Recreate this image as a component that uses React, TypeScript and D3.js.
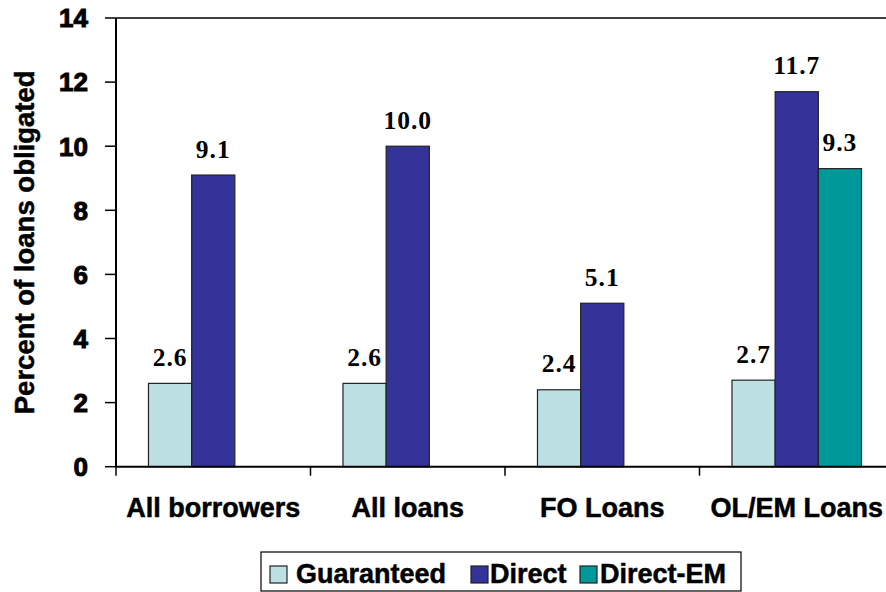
import React from "react";
import * as d3 from "d3";

const categories = ["All borrowers", "All loans", "FO Loans", "OL/EM Loans"];
const seriesNames = ["Guaranteed", "Direct", "Direct-EM"];
const guaranteed = [2.6, 2.6, 2.4, 2.7];
const direct = [9.1, 10.0, 5.1, 11.7];
const directEM: (number | null)[] = [null, null, null, 9.3];
const yTicks = [0, 2, 4, 6, 8, 10, 12, 14];
const colors = ["#BCE0E3", "#333399", "#009999"];

const W = 886;
const H = 592;
const left = 116;
const right = 894;
const top = 18;
const bottom = 466.7;

const sans = "'Liberation Sans', Arial, sans-serif";
const heavy = { stroke: "#000", strokeWidth: 0.5 };

export default function App() {
  const y = d3.scaleLinear().domain([0, 14]).range([bottom, top]);
  const x = d3.scaleBand<string>().domain(categories).range([left, right]).padding(0);
  const bw = x.bandwidth();
  const xs = d3
    .scaleBand<string>()
    .domain(seriesNames)
    .range([bw * 0.167, bw * 0.833])
    .padding(0);
  const series = [guaranteed, direct, directEM];
  const fmt = d3.format(".1f");

  const legendItems = [
    { name: "Guaranteed", mx: 270, tx: 296 },
    { name: "Direct", mx: 471, tx: 490 },
    { name: "Direct-EM", mx: 580, tx: 600 },
  ];

  return (
    <svg
      width={W}
      height={H}
      style={{ position: "absolute", left: 0, top: 0, background: "#fff" }}
    >
      <line x1={left} x2={right} y1={top} y2={top} stroke="#000" strokeWidth={1.5} />
      {series.map((vals, si) =>
        vals.map((v, ci) =>
          v == null ? null : (
            <rect
              key={`${si}-${ci}`}
              x={(x(categories[ci]) as number) + (xs(seriesNames[si]) as number)}
              y={y(v)}
              width={xs.bandwidth()}
              height={y(0) - y(v)}
              fill={colors[si]}
              stroke="#222"
              strokeWidth={1.2}
            />
          )
        )
      )}
      {series.map((vals, si) =>
        vals.map((v, ci) =>
          v == null ? null : (
            <text
              key={`l${si}-${ci}`}
              x={(x(categories[ci]) as number) + (xs(seriesNames[si]) as number) + xs.bandwidth() / 2}
              y={y(v) - 17.5}
              textAnchor="middle"
              fontFamily="'Liberation Serif', 'Times New Roman', serif"
              fontWeight="bold"
              fontSize={25.5}
              letterSpacing={1}
              fill="#000"
            >
              {fmt(v)}
            </text>
          )
        )
      )}
      <line x1={left} x2={left} y1={top} y2={bottom} stroke="#000" strokeWidth={2} />
      {yTicks.map((t) => (
        <g key={t}>
          <line x1={105} x2={left} y1={y(t)} y2={y(t)} stroke="#000" strokeWidth={1.5} />
          <text
            x={88}
            y={y(t)}
            dy="0.36em"
            textAnchor="end"
            fontFamily={sans}
            fontWeight="bold"
            fontSize={26}
            stroke="#000"
            strokeWidth={1}
          >
            {t}
          </text>
        </g>
      ))}
      <line x1={left} x2={right} y1={bottom} y2={bottom} stroke="#000" strokeWidth={2} />
      {categories.map((c, i) => (
        <line
          key={`t${i}`}
          x1={x(c) as number}
          x2={x(c) as number}
          y1={bottom}
          y2={bottom + 9}
          stroke="#000"
          strokeWidth={1.5}
        />
      ))}
      {categories.map((c) => (
        <text
          key={c}
          x={(x(c) as number) + bw / 2}
          y={517}
          textAnchor="middle"
          fontFamily={sans}
          fontWeight="bold"
          fontSize={27}
          {...heavy}
        >
          {c}
        </text>
      ))}
      <text
        transform={`translate(34, ${(top + bottom) / 2}) rotate(-90)`}
        textAnchor="middle"
        fontFamily={sans}
        fontWeight="bold"
        fontSize={27.5}
        {...heavy}
      >
        Percent of loans obligated
      </text>
      <rect x={261} y={552} width={480} height={39} fill="#fff" stroke="#000" strokeWidth={1.2} />
      {legendItems.map((it, i) => (
        <g key={it.name}>
          <rect x={it.mx} y={566} width={17} height={17} fill={colors[i]} stroke="#222" strokeWidth={1.2} />
          <text x={it.tx} y={583} fontFamily={sans} fontWeight="bold" fontSize={27} {...heavy}>
            {it.name}
          </text>
        </g>
      ))}
    </svg>
  );
}
